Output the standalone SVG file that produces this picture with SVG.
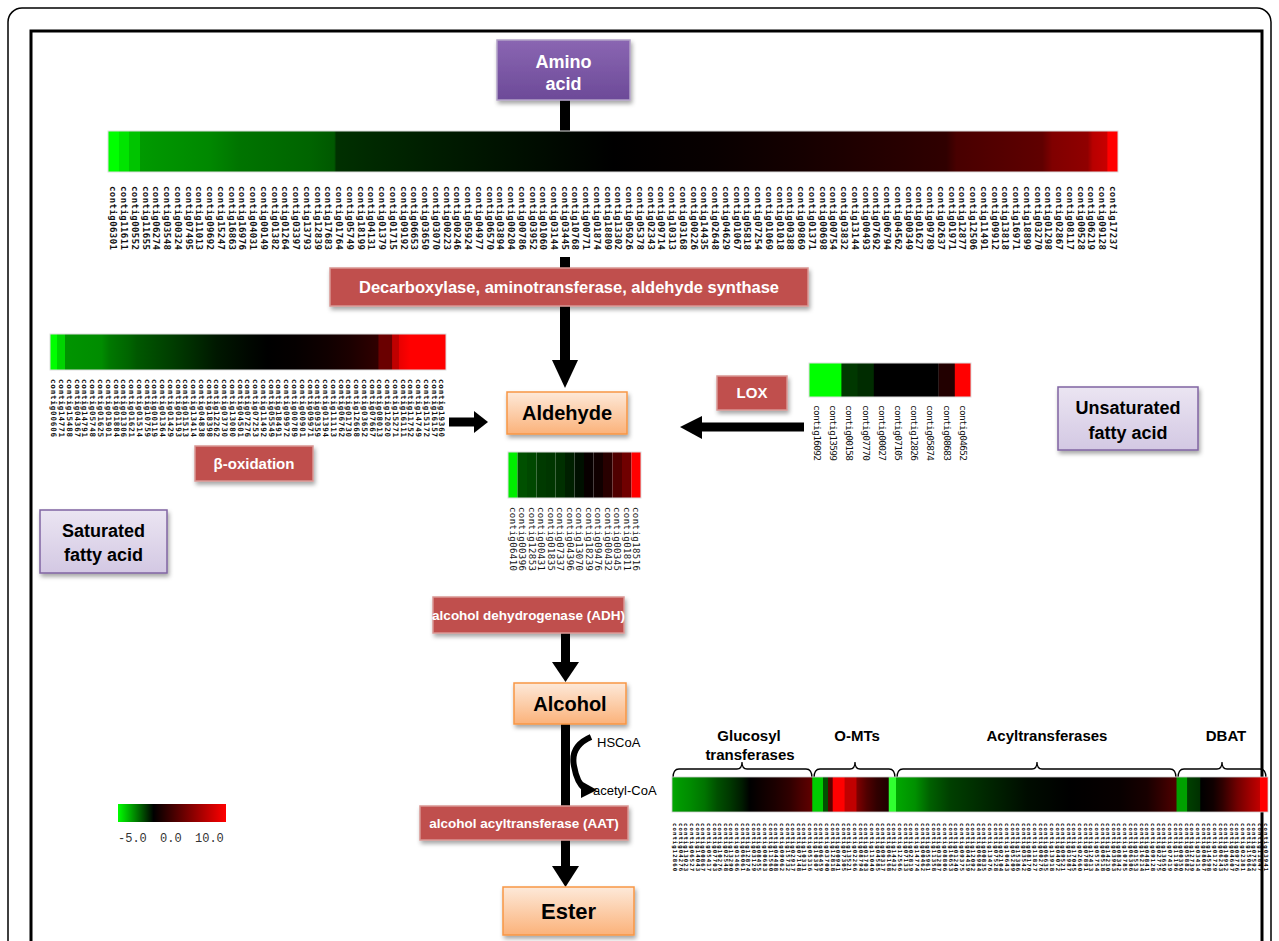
<svg xmlns="http://www.w3.org/2000/svg" width="1279" height="941" viewBox="0 0 1279 941">
<style>
.rbox{fill:#c0504d;stroke:#d99694;stroke-width:1.5;filter:url(#sh)}
.rt{font-family:"Liberation Sans",Arial,sans-serif;font-weight:bold;font-size:15px;fill:#fff;text-anchor:middle}
.obox{fill:url(#og);stroke:#f79646;stroke-width:1.5;filter:url(#sh)}
.ot{font-family:"Liberation Sans",Arial,sans-serif;font-weight:bold;font-size:20px;fill:#000;text-anchor:middle}
.lbox{fill:url(#lg);stroke:#8064a2;stroke-width:1.5;filter:url(#sh)}
.lt{font-family:"Liberation Sans",Arial,sans-serif;font-weight:bold;font-size:18px;fill:#000;text-anchor:middle}
.hd{font-family:"Liberation Sans",Arial,sans-serif;font-weight:bold;font-size:15px;fill:#000;text-anchor:middle}
.sm{font-family:"Liberation Sans",Arial,sans-serif;font-size:13px;fill:#000}
.t1{font-family:"DejaVu Sans Mono",monospace;font-weight:bold;font-size:9px;fill:#111}
.t2{font-family:"DejaVu Sans Mono",monospace;font-weight:bold;font-size:7.5px;fill:#111}
.t3{font-family:"DejaVu Sans Mono",monospace;font-size:9.5px;fill:#111}
.t4{font-family:"DejaVu Sans Mono",monospace;font-size:9px;fill:#111}
.t5{font-family:"DejaVu Sans Mono",monospace;font-weight:bold;font-size:5.6px;fill:#000}
.ar{fill:#000}
.br{fill:none;stroke:#000;stroke-width:1.3}
</style>
<defs>
<filter id="sh" x="-10%" y="-20%" width="130%" height="160%"><feDropShadow dx="1.5" dy="3" stdDeviation="2" flood-color="#000" flood-opacity="0.35"/></filter>
<linearGradient id="og" x1="0" y1="0" x2="0" y2="1"><stop offset="0" stop-color="#fde9d9"/><stop offset="1" stop-color="#fbb27a"/></linearGradient>
<linearGradient id="lg" x1="0" y1="0" x2="0" y2="1"><stop offset="0" stop-color="#ebe5f2"/><stop offset="1" stop-color="#d3c8e3"/></linearGradient>
<linearGradient id="pg" x1="0" y1="0" x2="0" y2="1"><stop offset="0" stop-color="#8a66b2"/><stop offset="1" stop-color="#6c4a98"/></linearGradient>
<linearGradient id="leg" x1="0" y1="0" x2="1" y2="0"><stop offset="0" stop-color="#00ff00"/><stop offset="0.33" stop-color="#000000"/><stop offset="1" stop-color="#ff0000"/></linearGradient>
<linearGradient id="hTop" x1="0" y1="0" x2="1" y2="0">
<stop offset="0" stop-color="#00ff00"/><stop offset="0.011" stop-color="#00ff00"/><stop offset="0.011" stop-color="#00e400"/><stop offset="0.021" stop-color="#00e400"/><stop offset="0.021" stop-color="#00c400"/><stop offset="0.032" stop-color="#00c400"/><stop offset="0.032" stop-color="#009a00"/><stop offset="0.1" stop-color="#008800"/><stop offset="0.13" stop-color="#007400"/><stop offset="0.2" stop-color="#006400"/><stop offset="0.224" stop-color="#005800"/><stop offset="0.226" stop-color="#003000"/><stop offset="0.33" stop-color="#001c00"/><stop offset="0.45" stop-color="#000800"/><stop offset="0.5" stop-color="#000000"/><stop offset="0.6" stop-color="#080000"/><stop offset="0.68" stop-color="#140000"/><stop offset="0.83" stop-color="#300000"/><stop offset="0.84" stop-color="#480000"/><stop offset="0.925" stop-color="#600000"/><stop offset="0.935" stop-color="#800000"/><stop offset="0.97" stop-color="#900000"/><stop offset="0.975" stop-color="#b80000"/><stop offset="0.989" stop-color="#c80000"/><stop offset="0.99" stop-color="#ff0000"/><stop offset="1" stop-color="#ff0000"/>
</linearGradient>
<linearGradient id="hLeft" x1="0" y1="0" x2="1" y2="0">
<stop offset="0" stop-color="#00ff00"/><stop offset="0.017" stop-color="#00ff00"/><stop offset="0.018" stop-color="#00d400"/><stop offset="0.037" stop-color="#00d400"/><stop offset="0.038" stop-color="#009400"/><stop offset="0.13" stop-color="#008c00"/><stop offset="0.15" stop-color="#007800"/><stop offset="0.2" stop-color="#006400"/><stop offset="0.22" stop-color="#005800"/><stop offset="0.3" stop-color="#004000"/><stop offset="0.35" stop-color="#003000"/><stop offset="0.42" stop-color="#001800"/><stop offset="0.5" stop-color="#000800"/><stop offset="0.55" stop-color="#000000"/><stop offset="0.62" stop-color="#050000"/><stop offset="0.7" stop-color="#100000"/><stop offset="0.76" stop-color="#1c0000"/><stop offset="0.829" stop-color="#300000"/><stop offset="0.83" stop-color="#6a0000"/><stop offset="0.864" stop-color="#6a0000"/><stop offset="0.865" stop-color="#c00000"/><stop offset="0.88" stop-color="#c00000"/><stop offset="0.881" stop-color="#e80000"/><stop offset="0.91" stop-color="#ff0000"/><stop offset="1" stop-color="#ff0000"/>
</linearGradient>
<linearGradient id="hBot" x1="0" y1="0" x2="1" y2="0">
<stop offset="0" stop-color="#00a800"/><stop offset="0.013" stop-color="#009800"/><stop offset="0.03" stop-color="#008c00"/><stop offset="0.055" stop-color="#007400"/><stop offset="0.076" stop-color="#005000"/><stop offset="0.097" stop-color="#003800"/><stop offset="0.117" stop-color="#001c00"/><stop offset="0.131" stop-color="#000000"/><stop offset="0.148" stop-color="#0c0000"/><stop offset="0.173" stop-color="#1c0000"/><stop offset="0.198" stop-color="#300000"/><stop offset="0.215" stop-color="#480000"/><stop offset="0.235" stop-color="#600000"/>
<stop offset="0.236" stop-color="#00cc00"/><stop offset="0.253" stop-color="#00cc00"/><stop offset="0.254" stop-color="#005000"/><stop offset="0.261" stop-color="#005000"/><stop offset="0.262" stop-color="#5a0000"/><stop offset="0.269" stop-color="#5a0000"/><stop offset="0.27" stop-color="#ff0000"/><stop offset="0.289" stop-color="#ff0000"/><stop offset="0.29" stop-color="#c00000"/><stop offset="0.309" stop-color="#c00000"/><stop offset="0.31" stop-color="#800000"/><stop offset="0.327" stop-color="#500000"/><stop offset="0.344" stop-color="#300000"/><stop offset="0.363" stop-color="#200000"/><stop offset="0.364" stop-color="#30ff30"/><stop offset="0.375" stop-color="#30ff30"/>
<stop offset="0.376" stop-color="#00a800"/><stop offset="0.408" stop-color="#009000"/><stop offset="0.433" stop-color="#006000"/><stop offset="0.466" stop-color="#004000"/><stop offset="0.525" stop-color="#002800"/><stop offset="0.596" stop-color="#000c00"/><stop offset="0.668" stop-color="#000000"/><stop offset="0.752" stop-color="#080000"/><stop offset="0.797" stop-color="#180000"/><stop offset="0.819" stop-color="#300000"/><stop offset="0.846" stop-color="#500000"/>
<stop offset="0.847" stop-color="#00a000"/><stop offset="0.864" stop-color="#00a000"/><stop offset="0.865" stop-color="#004000"/><stop offset="0.886" stop-color="#003000"/><stop offset="0.887" stop-color="#000000"/><stop offset="0.908" stop-color="#100000"/><stop offset="0.924" stop-color="#300000"/><stop offset="0.948" stop-color="#700000"/><stop offset="0.97" stop-color="#a00000"/><stop offset="0.986" stop-color="#c00000"/><stop offset="0.987" stop-color="#ff0000"/><stop offset="1" stop-color="#ff0000"/>
</linearGradient>
</defs>
<rect x="0" y="0" width="1279" height="941" fill="#fff"/>
<rect x="8" y="8" width="1263" height="960" rx="14" fill="none" stroke="#000" stroke-width="1.5"/>
<rect x="31" y="31" width="1231" height="940" fill="none" stroke="#000" stroke-width="3"/>

<g id="connectors">
<rect class="ar" x="560" y="100" width="10" height="32"/>
<rect class="ar" x="560" y="257" width="10" height="12"/>
<rect class="ar" x="560" y="306" width="10" height="56"/>
<polygon class="ar" points="552,360 578,360 565,388"/>
<rect class="ar" x="449" y="417.5" width="27" height="9"/>
<polygon class="ar" points="474,411 474,433 488,422"/>
<rect class="ar" x="700" y="422.5" width="104" height="9"/>
<polygon class="ar" points="702,416 702,439 680,427"/>
<rect class="ar" x="561" y="633" width="9" height="32"/>
<polygon class="ar" points="552,662 579,662 565.5,682"/>
<rect class="ar" x="561" y="724" width="9" height="82"/>
<rect class="ar" x="561" y="840" width="9" height="28"/>
<polygon class="ar" points="552,866 579,866 565.5,887"/>
<path d="M591,737 Q570,746 574,766 Q577,783 585,789" fill="none" stroke="#000" stroke-width="6"/>
<polygon class="ar" points="581,781 597,790 581,798"/>
</g>

<g id="amino-acid">
<rect x="497" y="40" width="133" height="60" fill="url(#pg)" stroke="#b3a2c7" stroke-width="1.5" filter="url(#sh)"/>
<text class="rt" x="563.5" y="68" style="font-size:18px">Amino</text>
<text class="rt" x="563.5" y="90" style="font-size:18px">acid</text>
</g>

<g id="heatmap-top">
<rect x="108" y="131" width="1010" height="41" fill="url(#hTop)" stroke="#ddd" stroke-width="1"/>
<g class="t1">
<text transform="translate(110.4 186) rotate(90)" textLength="64">contig06301</text>
<text transform="translate(121.1 186) rotate(90)" textLength="64">contig11611</text>
<text transform="translate(131.9 186) rotate(90)" textLength="64">contig00552</text>
<text transform="translate(142.6 186) rotate(90)" textLength="64">contig11655</text>
<text transform="translate(153.4 186) rotate(90)" textLength="64">contig06274</text>
<text transform="translate(164.1 186) rotate(90)" textLength="64">contig03548</text>
<text transform="translate(174.9 186) rotate(90)" textLength="64">contig00324</text>
<text transform="translate(185.6 186) rotate(90)" textLength="64">contig07495</text>
<text transform="translate(196.4 186) rotate(90)" textLength="64">contig11013</text>
<text transform="translate(207.1 186) rotate(90)" textLength="64">contig09692</text>
<text transform="translate(217.9 186) rotate(90)" textLength="64">contig15247</text>
<text transform="translate(228.6 186) rotate(90)" textLength="64">contig16863</text>
<text transform="translate(239.3 186) rotate(90)" textLength="64">contig16976</text>
<text transform="translate(250.1 186) rotate(90)" textLength="64">contig04031</text>
<text transform="translate(260.8 186) rotate(90)" textLength="64">contig00149</text>
<text transform="translate(271.6 186) rotate(90)" textLength="64">contig01382</text>
<text transform="translate(282.3 186) rotate(90)" textLength="64">contig01264</text>
<text transform="translate(293.1 186) rotate(90)" textLength="64">contig03397</text>
<text transform="translate(303.8 186) rotate(90)" textLength="64">contig13793</text>
<text transform="translate(314.6 186) rotate(90)" textLength="64">contig12839</text>
<text transform="translate(325.3 186) rotate(90)" textLength="64">contig17683</text>
<text transform="translate(336.0 186) rotate(90)" textLength="64">contig01764</text>
<text transform="translate(346.8 186) rotate(90)" textLength="64">contig05749</text>
<text transform="translate(357.5 186) rotate(90)" textLength="64">contig18199</text>
<text transform="translate(368.3 186) rotate(90)" textLength="64">contig04131</text>
<text transform="translate(379.0 186) rotate(90)" textLength="64">contig01379</text>
<text transform="translate(389.8 186) rotate(90)" textLength="64">contig01715</text>
<text transform="translate(400.5 186) rotate(90)" textLength="64">contig09192</text>
<text transform="translate(411.3 186) rotate(90)" textLength="64">contig06653</text>
<text transform="translate(422.0 186) rotate(90)" textLength="64">contig03650</text>
<text transform="translate(432.8 186) rotate(90)" textLength="64">contig03070</text>
<text transform="translate(443.5 186) rotate(90)" textLength="64">contig00223</text>
<text transform="translate(454.2 186) rotate(90)" textLength="64">contig00246</text>
<text transform="translate(465.0 186) rotate(90)" textLength="64">contig05924</text>
<text transform="translate(475.7 186) rotate(90)" textLength="64">contig04977</text>
<text transform="translate(486.5 186) rotate(90)" textLength="64">contig06570</text>
<text transform="translate(497.2 186) rotate(90)" textLength="64">contig03894</text>
<text transform="translate(508.0 186) rotate(90)" textLength="64">contig00204</text>
<text transform="translate(518.7 186) rotate(90)" textLength="64">contig00786</text>
<text transform="translate(529.5 186) rotate(90)" textLength="64">contig03952</text>
<text transform="translate(540.2 186) rotate(90)" textLength="64">contig01060</text>
<text transform="translate(550.9 186) rotate(90)" textLength="64">contig03144</text>
<text transform="translate(561.7 186) rotate(90)" textLength="64">contig03445</text>
<text transform="translate(572.4 186) rotate(90)" textLength="64">contig10768</text>
<text transform="translate(583.2 186) rotate(90)" textLength="64">contig00771</text>
<text transform="translate(593.9 186) rotate(90)" textLength="64">contig01874</text>
<text transform="translate(604.7 186) rotate(90)" textLength="64">contig18809</text>
<text transform="translate(615.4 186) rotate(90)" textLength="64">contig13302</text>
<text transform="translate(626.2 186) rotate(90)" textLength="64">contig05026</text>
<text transform="translate(636.9 186) rotate(90)" textLength="64">contig05378</text>
<text transform="translate(647.7 186) rotate(90)" textLength="64">contig02343</text>
<text transform="translate(658.4 186) rotate(90)" textLength="64">contig09714</text>
<text transform="translate(669.1 186) rotate(90)" textLength="64">contig10313</text>
<text transform="translate(679.9 186) rotate(90)" textLength="64">contig03168</text>
<text transform="translate(690.6 186) rotate(90)" textLength="64">contig00226</text>
<text transform="translate(701.4 186) rotate(90)" textLength="64">contig14435</text>
<text transform="translate(712.1 186) rotate(90)" textLength="64">contig02648</text>
<text transform="translate(722.9 186) rotate(90)" textLength="64">contig04629</text>
<text transform="translate(733.6 186) rotate(90)" textLength="64">contig01067</text>
<text transform="translate(744.4 186) rotate(90)" textLength="64">contig05818</text>
<text transform="translate(755.1 186) rotate(90)" textLength="64">contig07254</text>
<text transform="translate(765.8 186) rotate(90)" textLength="64">contig01069</text>
<text transform="translate(776.6 186) rotate(90)" textLength="64">contig01018</text>
<text transform="translate(787.3 186) rotate(90)" textLength="64">contig00388</text>
<text transform="translate(798.1 186) rotate(90)" textLength="64">contig09869</text>
<text transform="translate(808.8 186) rotate(90)" textLength="64">contig01371</text>
<text transform="translate(819.6 186) rotate(90)" textLength="64">contig00698</text>
<text transform="translate(830.3 186) rotate(90)" textLength="64">contig00754</text>
<text transform="translate(841.1 186) rotate(90)" textLength="64">contig03832</text>
<text transform="translate(851.8 186) rotate(90)" textLength="64">contig13144</text>
<text transform="translate(862.6 186) rotate(90)" textLength="64">contig00493</text>
<text transform="translate(873.3 186) rotate(90)" textLength="64">contig07692</text>
<text transform="translate(884.0 186) rotate(90)" textLength="64">contig06794</text>
<text transform="translate(894.8 186) rotate(90)" textLength="64">contig04562</text>
<text transform="translate(905.5 186) rotate(90)" textLength="64">contig00349</text>
<text transform="translate(916.3 186) rotate(90)" textLength="64">contig01627</text>
<text transform="translate(927.0 186) rotate(90)" textLength="64">contig09789</text>
<text transform="translate(937.8 186) rotate(90)" textLength="64">contig02637</text>
<text transform="translate(948.5 186) rotate(90)" textLength="64">contig01971</text>
<text transform="translate(959.3 186) rotate(90)" textLength="64">contig12877</text>
<text transform="translate(970.0 186) rotate(90)" textLength="64">contig12506</text>
<text transform="translate(980.7 186) rotate(90)" textLength="64">contig11491</text>
<text transform="translate(991.5 186) rotate(90)" textLength="64">contig09912</text>
<text transform="translate(1002.2 186) rotate(90)" textLength="64">contig13818</text>
<text transform="translate(1013.0 186) rotate(90)" textLength="64">contig16971</text>
<text transform="translate(1023.7 186) rotate(90)" textLength="64">contig18899</text>
<text transform="translate(1034.5 186) rotate(90)" textLength="64">contig03270</text>
<text transform="translate(1045.2 186) rotate(90)" textLength="64">contig01298</text>
<text transform="translate(1056.0 186) rotate(90)" textLength="64">contig02867</text>
<text transform="translate(1066.7 186) rotate(90)" textLength="64">contig08117</text>
<text transform="translate(1077.5 186) rotate(90)" textLength="64">contig00528</text>
<text transform="translate(1088.2 186) rotate(90)" textLength="64">contig06219</text>
<text transform="translate(1098.9 186) rotate(90)" textLength="64">contig09128</text>
<text transform="translate(1109.7 186) rotate(90)" textLength="64">contig17237</text>
</g>
</g>

<g id="decarboxylase">
<rect class="rbox" x="330" y="268" width="478" height="38"/>
<text class="rt" x="569" y="293" style="font-size:16.5px">Decarboxylase, aminotransferase, aldehyde synthase</text>
</g>

<g id="heatmap-left">
<rect x="50" y="334" width="396" height="36" fill="url(#hLeft)" stroke="#ddd" stroke-width="1"/>
<g class="t2">
<text transform="translate(51.4 379) rotate(90)" textLength="58">contig00606</text>
<text transform="translate(59.2 379) rotate(90)" textLength="58">contig14771</text>
<text transform="translate(66.9 379) rotate(90)" textLength="58">contig15488</text>
<text transform="translate(74.7 379) rotate(90)" textLength="58">contig04367</text>
<text transform="translate(82.4 379) rotate(90)" textLength="58">contig14791</text>
<text transform="translate(90.2 379) rotate(90)" textLength="58">contig05748</text>
<text transform="translate(98.0 379) rotate(90)" textLength="58">contig01625</text>
<text transform="translate(105.7 379) rotate(90)" textLength="58">contig01901</text>
<text transform="translate(113.5 379) rotate(90)" textLength="58">contig01884</text>
<text transform="translate(121.2 379) rotate(90)" textLength="58">contig01306</text>
<text transform="translate(129.0 379) rotate(90)" textLength="58">contig01621</text>
<text transform="translate(136.8 379) rotate(90)" textLength="58">contig01514</text>
<text transform="translate(144.5 379) rotate(90)" textLength="58">contig10759</text>
<text transform="translate(152.3 379) rotate(90)" textLength="58">contig00119</text>
<text transform="translate(160.0 379) rotate(90)" textLength="58">contig01364</text>
<text transform="translate(167.8 379) rotate(90)" textLength="58">contig01429</text>
<text transform="translate(175.6 379) rotate(90)" textLength="58">contig01193</text>
<text transform="translate(183.3 379) rotate(90)" textLength="58">contig01513</text>
<text transform="translate(191.1 379) rotate(90)" textLength="58">contig13414</text>
<text transform="translate(198.8 379) rotate(90)" textLength="58">contig04838</text>
<text transform="translate(206.6 379) rotate(90)" textLength="58">contig18398</text>
<text transform="translate(214.4 379) rotate(90)" textLength="58">contig12262</text>
<text transform="translate(222.1 379) rotate(90)" textLength="58">contig03730</text>
<text transform="translate(229.9 379) rotate(90)" textLength="58">contig13080</text>
<text transform="translate(237.6 379) rotate(90)" textLength="58">contig04501</text>
<text transform="translate(245.4 379) rotate(90)" textLength="58">contig07276</text>
<text transform="translate(253.2 379) rotate(90)" textLength="58">contig07253</text>
<text transform="translate(260.9 379) rotate(90)" textLength="58">contig11492</text>
<text transform="translate(268.7 379) rotate(90)" textLength="58">contig05549</text>
<text transform="translate(276.4 379) rotate(90)" textLength="58">contig18491</text>
<text transform="translate(284.2 379) rotate(90)" textLength="58">contig09972</text>
<text transform="translate(292.0 379) rotate(90)" textLength="58">contig00789</text>
<text transform="translate(299.7 379) rotate(90)" textLength="58">contig00901</text>
<text transform="translate(307.5 379) rotate(90)" textLength="58">contig09971</text>
<text transform="translate(315.2 379) rotate(90)" textLength="58">contig09359</text>
<text transform="translate(323.0 379) rotate(90)" textLength="58">contig01394</text>
<text transform="translate(330.8 379) rotate(90)" textLength="58">contig11113</text>
<text transform="translate(338.5 379) rotate(90)" textLength="58">contig06762</text>
<text transform="translate(346.3 379) rotate(90)" textLength="58">contig01730</text>
<text transform="translate(354.0 379) rotate(90)" textLength="58">contig12668</text>
<text transform="translate(361.8 379) rotate(90)" textLength="58">contig03652</text>
<text transform="translate(369.6 379) rotate(90)" textLength="58">contig07667</text>
<text transform="translate(377.3 379) rotate(90)" textLength="58">contig08013</text>
<text transform="translate(385.1 379) rotate(90)" textLength="58">contig12020</text>
<text transform="translate(392.8 379) rotate(90)" textLength="58">contig15271</text>
<text transform="translate(400.6 379) rotate(90)" textLength="58">contig16111</text>
<text transform="translate(408.4 379) rotate(90)" textLength="58">contig11752</text>
<text transform="translate(416.1 379) rotate(90)" textLength="58">contig14749</text>
<text transform="translate(423.9 379) rotate(90)" textLength="58">contig15172</text>
<text transform="translate(431.6 379) rotate(90)" textLength="58">contig16157</text>
<text transform="translate(439.4 379) rotate(90)" textLength="58">contig19360</text>
</g>
</g>

<g id="aldehyde">
<rect class="obox" x="507" y="392" width="120" height="42"/>
<text class="ot" x="567" y="420">Aldehyde</text>
</g>

<g id="lox">
<rect class="rbox" x="717" y="376" width="70" height="34"/>
<text class="rt" x="752" y="398">LOX</text>
</g>

<g id="heatmap-lox">
<rect x="809" y="363" width="33" height="34" fill="#00ff00"/>
<rect x="841.4" y="363" width="16.6" height="34" fill="#003800"/>
<rect x="857.6" y="363" width="16.6" height="34" fill="#002c00"/>
<rect x="873.8" y="363" width="65" height="34" fill="#000000"/>
<rect x="938.6" y="363" width="16.6" height="34" fill="#220000"/>
<rect x="954.8" y="363" width="16.2" height="34" fill="#ff0000"/>
<rect x="809" y="363" width="162" height="34" fill="none" stroke="#ddd" stroke-width="1"/>
<g class="t3">
<text transform="translate(813.9 405) rotate(90)" textLength="56">contig16092</text>
<text transform="translate(830.1 405) rotate(90)" textLength="56">contig13599</text>
<text transform="translate(846.3 405) rotate(90)" textLength="56">contig00158</text>
<text transform="translate(862.5 405) rotate(90)" textLength="56">contig07770</text>
<text transform="translate(878.7 405) rotate(90)" textLength="56">contig00027</text>
<text transform="translate(894.9 405) rotate(90)" textLength="56">contig07105</text>
<text transform="translate(911.1 405) rotate(90)" textLength="56">contig12826</text>
<text transform="translate(927.3 405) rotate(90)" textLength="56">contig05874</text>
<text transform="translate(943.5 405) rotate(90)" textLength="56">contig08683</text>
<text transform="translate(959.7 405) rotate(90)" textLength="56">contig04652</text>
</g>
</g>

<g id="unsaturated">
<rect class="lbox" x="1058" y="387" width="140" height="63"/>
<text class="lt" x="1128" y="414">Unsaturated</text>
<text class="lt" x="1128" y="439">fatty acid</text>
</g>

<g id="beta-oxidation">
<rect class="rbox" x="195" y="446" width="118" height="35"/>
<text class="rt" x="254" y="469">β-oxidation</text>
</g>

<g id="saturated">
<rect class="lbox" x="40" y="510" width="127" height="63"/>
<text class="lt" x="103.5" y="537">Saturated</text>
<text class="lt" x="103.5" y="561">fatty acid</text>
</g>

<g id="heatmap-mid">
<rect x="508" y="452" width="9.5" height="46" fill="#00ee00"/>
<rect x="517.5" y="452" width="9.5" height="46" fill="#005000"/>
<rect x="527" y="452" width="9.5" height="46" fill="#004800"/>
<rect x="536.5" y="452" width="9.5" height="46" fill="#003a00"/>
<rect x="546" y="452" width="9.5" height="46" fill="#003600"/>
<rect x="555.5" y="452" width="9.5" height="46" fill="#003000"/>
<rect x="565" y="452" width="9.5" height="46" fill="#002000"/>
<rect x="574.5" y="452" width="9.5" height="46" fill="#001000"/>
<rect x="584" y="452" width="9.5" height="46" fill="#080000"/>
<rect x="593.5" y="452" width="9.5" height="46" fill="#100000"/>
<rect x="603" y="452" width="9.5" height="46" fill="#280000"/>
<rect x="612.5" y="452" width="9.5" height="46" fill="#500000"/>
<rect x="622" y="452" width="9.5" height="46" fill="#700000"/>
<rect x="631.5" y="452" width="9.5" height="46" fill="#ff0000"/>
<rect x="508" y="452" width="133" height="46" fill="none" stroke="#ddd" stroke-width="1"/>
<g class="t4">
<text transform="translate(509.8 507) rotate(90)" textLength="64">contig06410</text>
<text transform="translate(519.3 507) rotate(90)" textLength="64">contig00396</text>
<text transform="translate(528.8 507) rotate(90)" textLength="64">contig12853</text>
<text transform="translate(538.3 507) rotate(90)" textLength="64">contig00431</text>
<text transform="translate(547.8 507) rotate(90)" textLength="64">contig01835</text>
<text transform="translate(557.3 507) rotate(90)" textLength="64">contig07337</text>
<text transform="translate(566.8 507) rotate(90)" textLength="64">contig04396</text>
<text transform="translate(576.3 507) rotate(90)" textLength="64">contig13070</text>
<text transform="translate(585.8 507) rotate(90)" textLength="64">contig18239</text>
<text transform="translate(595.3 507) rotate(90)" textLength="64">contig09476</text>
<text transform="translate(604.8 507) rotate(90)" textLength="64">contig00432</text>
<text transform="translate(614.3 507) rotate(90)" textLength="64">contig00345</text>
<text transform="translate(623.8 507) rotate(90)" textLength="64">contig01811</text>
<text transform="translate(633.3 507) rotate(90)" textLength="64">contig18516</text>
</g>
</g>

<g id="adh">
<rect class="rbox" x="433" y="597" width="191" height="36"/>
<text class="rt" x="528.5" y="620" style="font-size:13.5px">alcohol dehydrogenase (ADH)</text>
</g>

<g id="alcohol">
<rect class="obox" x="514" y="683" width="112" height="41"/>
<text class="ot" x="570" y="711">Alcohol</text>
</g>

<g id="cofactors">
<text class="sm" x="597" y="747">HSCoA</text>
<text class="sm" x="593" y="795">acetyl-CoA</text>
</g>

<g id="aat">
<rect class="rbox" x="420" y="806" width="208" height="34"/>
<text class="rt" x="524" y="828" style="font-size:13.5px">alcohol acyltransferase (AAT)</text>
</g>

<g id="ester">
<rect class="obox" x="503" y="887" width="131" height="48"/>
<text class="ot" x="568.5" y="919" style="font-size:22px">Ester</text>
</g>

<g id="legend">
<rect x="118" y="804" width="108" height="18" fill="url(#leg)"/>
<text x="118" y="842" font-family="Liberation Mono, monospace" font-size="12" fill="#333">-5.0</text>
<text x="160" y="842" font-family="Liberation Mono, monospace" font-size="12" fill="#333">0.0</text>
<text x="195" y="842" font-family="Liberation Mono, monospace" font-size="12" fill="#333">10.0</text>
</g>

<g id="heatmap-bottom">
<text class="hd" x="749" y="741">Glucosyl</text>
<text class="hd" x="750" y="760">transferases</text>
<text class="hd" x="857" y="741">O-MTs</text>
<text class="hd" x="1047" y="741">Acyltransferases</text>
<text class="hd" x="1226" y="741">DBAT</text>
<path class="br" d="M673,778 Q673,769 679,769 L737,769 Q742,769 742,762 Q742,769 747,769 L806,769 Q812,769 812,778"/>
<path class="br" d="M814,778 Q814,769 820,769 L850,769 Q855,769 855,762 Q855,769 860,769 L889,769 Q895,769 895,778"/>
<path class="br" d="M897,778 Q897,769 903,769 L1032,769 Q1037,769 1037,762 Q1037,769 1042,769 L1170,769 Q1176,769 1176,778"/>
<path class="br" d="M1178,778 Q1178,769 1184,769 L1217,769 Q1222,769 1222,762 Q1222,769 1227,769 L1260,769 Q1266,769 1266,778"/>
<rect x="672" y="777" width="596" height="35" fill="url(#hBot)" stroke="#ccc" stroke-width="0.8"/>
<g class="t5">
<text transform="translate(673.1 823) rotate(90)" textLength="48">contig12860</text>
<text transform="translate(678.7 823) rotate(90)" textLength="48">contig04276</text>
<text transform="translate(684.3 823) rotate(90)" textLength="48">contig13023</text>
<text transform="translate(690.0 823) rotate(90)" textLength="48">contig06527</text>
<text transform="translate(695.6 823) rotate(90)" textLength="48">contig14043</text>
<text transform="translate(701.2 823) rotate(90)" textLength="48">contig00867</text>
<text transform="translate(706.8 823) rotate(90)" textLength="48">contig05417</text>
<text transform="translate(712.5 823) rotate(90)" textLength="48">contig07703</text>
<text transform="translate(718.1 823) rotate(90)" textLength="48">contig10276</text>
<text transform="translate(723.7 823) rotate(90)" textLength="48">contig02548</text>
<text transform="translate(729.3 823) rotate(90)" textLength="48">contig13290</text>
<text transform="translate(735.0 823) rotate(90)" textLength="48">contig01466</text>
<text transform="translate(740.6 823) rotate(90)" textLength="48">contig06061</text>
<text transform="translate(746.2 823) rotate(90)" textLength="48">contig12874</text>
<text transform="translate(751.8 823) rotate(90)" textLength="48">contig03129</text>
<text transform="translate(757.4 823) rotate(90)" textLength="48">contig08455</text>
<text transform="translate(763.1 823) rotate(90)" textLength="48">contig00683</text>
<text transform="translate(768.7 823) rotate(90)" textLength="48">contig11560</text>
<text transform="translate(774.3 823) rotate(90)" textLength="48">contig04488</text>
<text transform="translate(779.9 823) rotate(90)" textLength="48">contig09062</text>
<text transform="translate(785.6 823) rotate(90)" textLength="48">contig15732</text>
<text transform="translate(791.2 823) rotate(90)" textLength="48">contig02917</text>
<text transform="translate(796.8 823) rotate(90)" textLength="48">contig07148</text>
<text transform="translate(802.4 823) rotate(90)" textLength="48">contig10331</text>
<text transform="translate(808.1 823) rotate(90)" textLength="48">contig05316</text>
<text transform="translate(813.7 823) rotate(90)" textLength="48">contig10307</text>
<text transform="translate(819.3 823) rotate(90)" textLength="48">contig06459</text>
<text transform="translate(824.9 823) rotate(90)" textLength="48">contig03700</text>
<text transform="translate(830.5 823) rotate(90)" textLength="48">contig12818</text>
<text transform="translate(836.2 823) rotate(90)" textLength="48">contig00941</text>
<text transform="translate(841.8 823) rotate(90)" textLength="48">contig07305</text>
<text transform="translate(847.4 823) rotate(90)" textLength="48">contig13521</text>
<text transform="translate(853.0 823) rotate(90)" textLength="48">contig02266</text>
<text transform="translate(858.7 823) rotate(90)" textLength="48">contig08794</text>
<text transform="translate(864.3 823) rotate(90)" textLength="48">contig01703</text>
<text transform="translate(869.9 823) rotate(90)" textLength="48">contig11040</text>
<text transform="translate(875.5 823) rotate(90)" textLength="48">contig04585</text>
<text transform="translate(881.2 823) rotate(90)" textLength="48">contig09317</text>
<text transform="translate(886.8 823) rotate(90)" textLength="48">contig06168</text>
<text transform="translate(892.4 823) rotate(90)" textLength="48">contig14432</text>
<text transform="translate(898.0 823) rotate(90)" textLength="48">contig12566</text>
<text transform="translate(903.6 823) rotate(90)" textLength="48">contig07133</text>
<text transform="translate(909.3 823) rotate(90)" textLength="48">contig02819</text>
<text transform="translate(914.9 823) rotate(90)" textLength="48">contig14774</text>
<text transform="translate(920.5 823) rotate(90)" textLength="48">contig00462</text>
<text transform="translate(926.1 823) rotate(90)" textLength="48">contig05961</text>
<text transform="translate(931.8 823) rotate(90)" textLength="48">contig11358</text>
<text transform="translate(937.4 823) rotate(90)" textLength="48">contig03287</text>
<text transform="translate(943.0 823) rotate(90)" textLength="48">contig08806</text>
<text transform="translate(948.6 823) rotate(90)" textLength="48">contig16653</text>
<text transform="translate(954.3 823) rotate(90)" textLength="48">contig01240</text>
<text transform="translate(959.9 823) rotate(90)" textLength="48">contig09375</text>
<text transform="translate(965.5 823) rotate(90)" textLength="48">contig04419</text>
<text transform="translate(971.1 823) rotate(90)" textLength="48">contig12092</text>
<text transform="translate(976.7 823) rotate(90)" textLength="48">contig06984</text>
<text transform="translate(982.4 823) rotate(90)" textLength="48">contig00835</text>
<text transform="translate(988.0 823) rotate(90)" textLength="48">contig13476</text>
<text transform="translate(993.6 823) rotate(90)" textLength="48">contig07528</text>
<text transform="translate(999.2 823) rotate(90)" textLength="48">contig02104</text>
<text transform="translate(1004.9 823) rotate(90)" textLength="48">contig10643</text>
<text transform="translate(1010.5 823) rotate(90)" textLength="48">contig05209</text>
<text transform="translate(1016.1 823) rotate(90)" textLength="48">contig15386</text>
<text transform="translate(1021.7 823) rotate(90)" textLength="48">contig03542</text>
<text transform="translate(1027.4 823) rotate(90)" textLength="48">contig08170</text>
<text transform="translate(1033.0 823) rotate(90)" textLength="48">contig11827</text>
<text transform="translate(1038.6 823) rotate(90)" textLength="48">contig00276</text>
<text transform="translate(1044.2 823) rotate(90)" textLength="48">contig06635</text>
<text transform="translate(1049.8 823) rotate(90)" textLength="48">contig13918</text>
<text transform="translate(1055.5 823) rotate(90)" textLength="48">contig04072</text>
<text transform="translate(1061.1 823) rotate(90)" textLength="48">contig09521</text>
<text transform="translate(1066.7 823) rotate(90)" textLength="48">contig01987</text>
<text transform="translate(1072.3 823) rotate(90)" textLength="48">contig17045</text>
<text transform="translate(1078.0 823) rotate(90)" textLength="48">contig02660</text>
<text transform="translate(1083.6 823) rotate(90)" textLength="48">contig07891</text>
<text transform="translate(1089.2 823) rotate(90)" textLength="48">contig12413</text>
<text transform="translate(1094.8 823) rotate(90)" textLength="48">contig05754</text>
<text transform="translate(1100.5 823) rotate(90)" textLength="48">contig00518</text>
<text transform="translate(1106.1 823) rotate(90)" textLength="48">contig14210</text>
<text transform="translate(1111.7 823) rotate(90)" textLength="48">contig03963</text>
<text transform="translate(1117.3 823) rotate(90)" textLength="48">contig08342</text>
<text transform="translate(1122.9 823) rotate(90)" textLength="48">contig10785</text>
<text transform="translate(1128.6 823) rotate(90)" textLength="48">contig06306</text>
<text transform="translate(1134.2 823) rotate(90)" textLength="48">contig01553</text>
<text transform="translate(1139.8 823) rotate(90)" textLength="48">contig16214</text>
<text transform="translate(1145.4 823) rotate(90)" textLength="48">contig04841</text>
<text transform="translate(1151.1 823) rotate(90)" textLength="48">contig09128</text>
<text transform="translate(1156.7 823) rotate(90)" textLength="48">contig02775</text>
<text transform="translate(1162.3 823) rotate(90)" textLength="48">contig13650</text>
<text transform="translate(1167.9 823) rotate(90)" textLength="48">contig07419</text>
<text transform="translate(1173.6 823) rotate(90)" textLength="48">contig11196</text>
<text transform="translate(1179.2 823) rotate(90)" textLength="48">contig00350</text>
<text transform="translate(1184.8 823) rotate(90)" textLength="48">contig05882</text>
<text transform="translate(1190.4 823) rotate(90)" textLength="48">contig12739</text>
<text transform="translate(1196.0 823) rotate(90)" textLength="48">contig03414</text>
<text transform="translate(1201.7 823) rotate(90)" textLength="48">contig08067</text>
<text transform="translate(1207.3 823) rotate(90)" textLength="48">contig14598</text>
<text transform="translate(1212.9 823) rotate(90)" textLength="48">contig01729</text>
<text transform="translate(1218.5 823) rotate(90)" textLength="48">contig06243</text>
<text transform="translate(1224.2 823) rotate(90)" textLength="48">contig10952</text>
<text transform="translate(1229.8 823) rotate(90)" textLength="48">contig04607</text>
<text transform="translate(1235.4 823) rotate(90)" textLength="48">contig09776</text>
<text transform="translate(1241.0 823) rotate(90)" textLength="48">contig02381</text>
<text transform="translate(1246.7 823) rotate(90)" textLength="48">contig15064</text>
<text transform="translate(1252.3 823) rotate(90)" textLength="48">contig07592</text>
<text transform="translate(1257.9 823) rotate(90)" textLength="48">contig11847</text>
<text transform="translate(1263.5 823) rotate(90)" textLength="48">contig03941</text>
</g>
</g>
</svg>
